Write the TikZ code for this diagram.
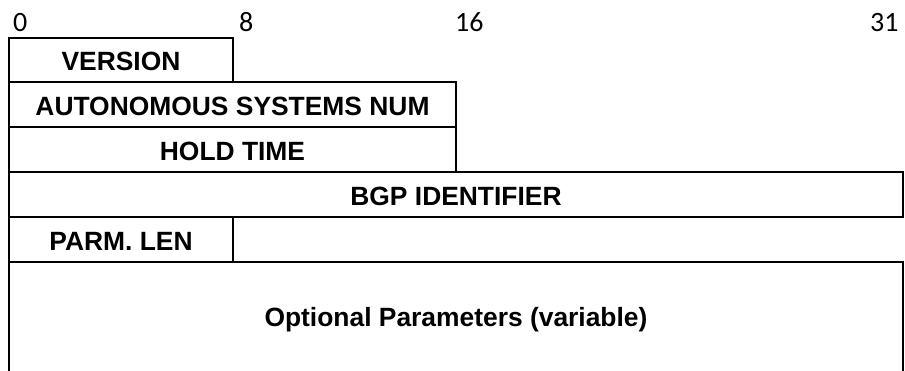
\documentclass[tikz,border=0pt]{standalone}
\usepackage{fontspec}
\setmainfont{Liberation Sans}
\newfontfamily\numfont{Carlito}
\begin{document}
\begin{tikzpicture}[x=1pt,y=-1pt,
  fieldline/.style={draw=black,line width=1.6pt,line join=miter},
  fieldtext/.style={anchor=base,inner sep=0pt,font=\fontsize{26.4}{30}\selectfont\bfseries},
  bitnum/.style={anchor=base west,inner sep=0pt,font=\numfont\fontsize{28}{32}\selectfont}]
\useasboundingbox (0,0) rectangle (905,370);
% bit numbers
\node[bitnum] (b0) at (13,31) {0};
\node[bitnum] (b8) at (239,31) {8};
\node[bitnum] (b16) at (455,31) {16};
\node[bitnum] (b31) at (870,31) {31};
% field borders
\draw[fieldline] (9,38) rectangle (233,82);
\draw[fieldline] (9,82) rectangle (456,127);
\draw[fieldline] (9,127) rectangle (456,172);
\draw[fieldline] (9,172) rectangle (903,217);
\draw[fieldline] (9,217) rectangle (233,262);
\draw[fieldline] (9,372) -- (9,262) -- (903,262) -- (903,372);
% field texts
\node[fieldtext] (ver) at (121,70) {VERSION};
\node[fieldtext] (asn) at (232.5,115) {AUTONOMOUS SYSTEMS NUM};
\node[fieldtext] (hold) at (232.5,160) {HOLD TIME};
\node[fieldtext] (bgp) at (456,205) {BGP IDENTIFIER};
\node[fieldtext] (parm) at (121,250) {PARM. LEN};
\node[fieldtext] (opt) at (456,326) {Optional Parameters (variable)};
\end{tikzpicture}
\end{document}
